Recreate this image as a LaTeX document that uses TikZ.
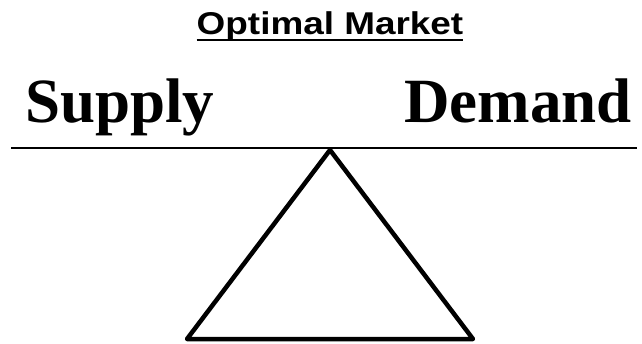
\documentclass[tikz,border=0pt]{standalone}
\usepackage{fontspec}
\setmainfont{Liberation Serif}
\newfontfamily\arialfont{Liberation Sans}
\tikzset{
  bigword/.style={inner sep=0pt, font=\fontsize{63}{63}\selectfont\bfseries},
  titletext/.style={inner sep=0pt, font=\arialfont\fontsize{30}{30}\selectfont\bfseries},
  beam/.style={line width=2pt},
  fulcrum/.style={line width=4.5pt, line join=round}
}
\begin{document}
\begin{tikzpicture}[x=1pt,y=1pt]
\useasboundingbox (0,0) rectangle (642,-343);
\node[titletext, anchor=base] (title) at (330,-34) {\scalebox{1.23}[1.05]{Optimal Market}};
\draw[line width=2.6pt] ([yshift=-6pt]title.base west) -- ([yshift=-6pt]title.base east);
\node[bigword, anchor=base west] (supply) at (25,-122) {Supply};
\node[bigword, anchor=base east] (demand) at (632,-122) {Demand};
\coordinate (bl) at (11,-148);
\coordinate (br) at (637,-148);
\draw[beam] (bl) -- (br);
\coordinate (apex) at (330,-150);
\coordinate (left) at (187,-339);
\coordinate (right) at (473,-339);
\draw[fulcrum] (apex) -- (left) -- (right) -- cycle;
\end{tikzpicture}
\end{document}
